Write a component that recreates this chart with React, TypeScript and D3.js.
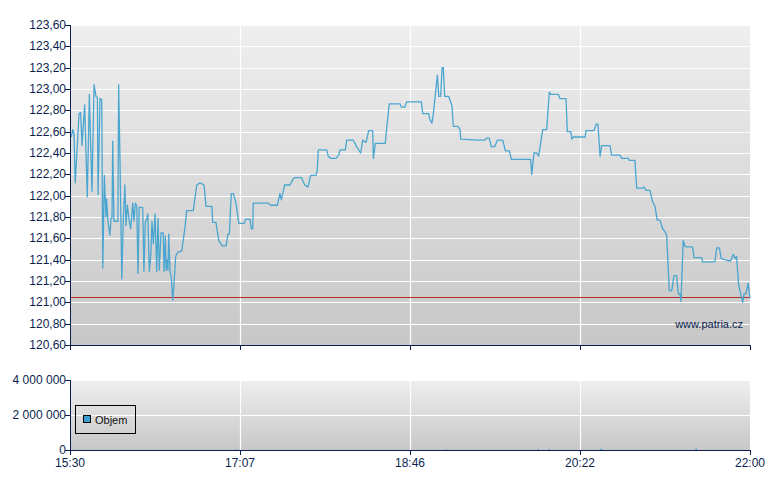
import React from 'react';
import * as d3 from 'd3';

// minutes after 15:30
const times = [
  0.75, 1.55, 2.3, 3.0, 5.2, 6.1, 6.9, 8.4, 9.9, 11.1, 12.6, 13.8, 14.9, 15.7, 16.1, 17.2, 18.2, 18.8,
  19.7, 20.6, 21.0, 21.8, 22.9, 23.5, 24.1, 24.5, 25.2, 27.5, 27.9, 28.7, 29.7, 30.6, 31.5, 32.1, 32.9,
  34.0, 34.8, 36.0, 36.7, 37.5, 38.3, 39.0, 39.7, 41.7, 42.4, 43.2, 44.0, 44.6, 45.5, 46.3, 47.0, 47.8,
  48.8, 49.7, 50.5, 51.2, 52.2, 53.5, 53.9, 54.7, 55.1, 55.8, 56.2, 56.6, 57.4, 58.1, 58.9, 59.6, 60.6,
  61.8, 64.1, 66.0, 66.9, 70.7, 72.7, 74.6, 76.9, 78.0, 81.4, 81.8, 83.7, 85.3, 87.2, 89.5, 90.6, 91.4,
  92.5, 93.7, 95.2, 96.8, 99.8, 100.9, 103.2, 104.0, 104.8, 105.1, 113.7, 115.1, 118.9, 120.4, 121.2,
  123.1, 126.2, 128.1, 129.2, 132.7, 134.6, 136.5, 138.0, 141.1, 141.8, 142.4, 147.2, 148.1, 149.5,
  152.6, 154.1, 154.9, 157.9, 158.7, 162.5, 164.4, 166.7, 167.9, 169.8, 171.3, 173.6, 174.0, 175.1,
  180.8, 181.6, 183.1, 189.3, 190.0, 192.0, 193.1, 201.5, 202.3, 205.7, 206.5, 207.6, 208.4, 210.7,
  211.5, 212.6, 213.4, 214.1, 214.9, 217.2, 219.1, 219.8, 222.5, 223.7, 224.1, 233.3, 234.4, 237.8,
  239.0, 240.5, 241.6, 243.6, 245.1, 248.2, 249.7, 252.0, 253.1, 264.2, 264.8, 266.1, 267.7, 268.8,
  271.1, 273.4, 274.9, 275.7, 280.1, 281.0, 284.5, 285.2, 287.2, 287.9, 288.7, 295.5, 295.9, 300.5,
  301.7, 302.8, 304.0, 304.9, 309.7, 310.6, 315.4, 316.4, 320.2, 320.8, 324.0, 325.0, 328.4, 329.2,
  330.4, 332.6, 334.2, 335.5, 336.8, 338.4, 339.9, 341.3, 342.2, 343.7, 345.1, 346.4, 347.9, 348.9,
  349.8, 350.4, 351.7, 352.9, 357.1, 357.9, 362.3, 362.8, 369.9, 370.9, 372.4, 373.5, 377.5, 378.9,
  380.4, 381.5, 382.3, 383.5, 385.8, 386.6, 387.7, 388.9, 390.0,
];

const prices = [
  122.55, 122.62, 122.58, 122.12, 122.77, 122.78, 122.47, 122.85, 121.99, 122.95, 122.04, 123.04, 122.93,
  122.92, 122.01, 122.91, 122.9, 121.32, 122.19, 121.8, 121.97, 121.75, 121.63, 121.79, 121.79, 122.51,
  121.76, 121.76, 123.04, 122.3, 121.22, 121.79, 122.1, 121.72, 121.91, 121.76, 121.69, 121.93, 121.76,
  121.93, 121.9, 121.27, 121.89, 121.89, 121.29, 121.75, 121.78, 121.83, 121.29, 121.43, 121.76, 121.55,
  121.83, 121.29, 121.79, 121.3, 121.65, 121.65, 121.29, 121.62, 121.3, 121.4, 121.3, 121.64, 121.29,
  121.23, 121.02, 121.16, 121.43, 121.47, 121.48, 121.71, 121.86, 121.86, 122.1, 122.12, 122.1, 121.9,
  121.9, 121.75, 121.75, 121.58, 121.53, 121.53, 121.64, 121.64, 122.02, 122.02, 121.93, 121.74, 121.74,
  121.78, 121.78, 121.69, 121.69, 121.93, 121.93, 121.91, 121.91, 122.02, 121.96, 122.1, 122.1, 122.16,
  122.17, 122.17, 122.1, 122.08, 122.19, 122.19, 122.24, 122.43, 122.43, 122.37, 122.35, 122.35, 122.38,
  122.43, 122.43, 122.52, 122.52, 122.46, 122.4, 122.52, 122.5, 122.61, 122.61, 122.35, 122.49, 122.49,
  122.63, 122.86, 122.86, 122.83, 122.83, 122.88, 122.88, 122.77, 122.77, 122.71, 122.68, 122.77, 123.13,
  122.93, 122.93, 123.2, 123.2, 122.93, 122.93, 122.84, 122.65, 122.65, 122.62, 122.53, 122.52, 122.52,
  122.52, 122.54, 122.54, 122.46, 122.46, 122.52, 122.52, 122.42, 122.42, 122.34, 122.34, 122.2, 122.4,
  122.4, 122.37, 122.62, 122.62, 122.97, 122.95, 122.95, 122.91, 122.91, 122.6, 122.6, 122.53, 122.55,
  122.55, 122.61, 122.61, 122.67, 122.67, 122.37, 122.47, 122.47, 122.38, 122.38, 122.35, 122.35, 122.33,
  122.33, 122.07, 122.07, 122.08, 122.05, 122.05, 121.94, 121.9, 121.77, 121.77, 121.69, 121.66, 121.63,
  121.11, 121.11, 121.25, 121.25, 121.08, 121.08, 121.01, 121.58, 121.52, 121.52, 121.42, 121.42, 121.38,
  121.38, 121.51, 121.51, 121.41, 121.39, 121.39, 121.45, 121.41, 121.43, 121.16, 121.0, 121.08, 121.08,
  121.18, 121.04,
];

const prevClose = 121.05;

const volTimes = [95.2, 215.6, 268.4, 274.7, 304.5, 359.0];
const volumes = [40000, 40000, 50000, 50000, 70000, 80000];

const xTickMinutes = [0, 97.5, 195, 292.5, 390];
const xTickLabels = ['15:30', '17:07', '18:46', '20:22', '22:00'];
const priceTicks = [120.6, 120.8, 121.0, 121.2, 121.4, 121.6, 121.8, 122.0, 122.2, 122.4, 122.6, 122.8, 123.0, 123.2, 123.4, 123.6];
const volTicks = [0, 2000000, 4000000];
const legendLabel = 'Objem';
const watermark = 'www.patria.cz';

const L = 70, R = 750, PT = 25, PB = 345, VT = 380, VB = 450;
const AXIS = '#0b1f4f';
const LINE = '#4aa6d0';
const FONT = '"Liberation Sans", Arial, sans-serif';

const px = (v: number) => Math.round(v) + 0.5;

export default function App() {
  const x = d3.scaleLinear().domain([0, 390]).range([L, R]);
  const y = d3.scaleLinear().domain([120.6, 123.6]).range([PB, PT]);
  const yv = d3.scaleLinear().domain([0, 4000000]).range([VB, VT]);
  const pts = times.map((t, i) => [t, prices[i]] as [number, number]);
  const line = d3.line<[number, number]>().x(d => x(d[0])).y(d => y(d[1]));
  const fmtP = (v: number) => v.toFixed(2).replace('.', ',');
  const fmtV = (v: number) => d3.format(',')(v).replace(/,/g, ' ');

  return (
    <div style={{ position: 'absolute', left: 0, top: 0 }}>
      <svg width={780} height={490} style={{ display: 'block', fontFamily: FONT }}>
        <defs>
          <linearGradient id="bgp" x1="0" y1="0" x2="0" y2="1">
            <stop offset="0" stopColor="#efefef" />
            <stop offset="1" stopColor="#c7c7c7" />
          </linearGradient>
          <linearGradient id="bgv" x1="0" y1="0" x2="0" y2="1">
            <stop offset="0" stopColor="#efefef" />
            <stop offset="1" stopColor="#c7c7c7" />
          </linearGradient>
        </defs>
        <rect x={0} y={0} width={780} height={490} fill="#fff" />
        {/* price panel */}
        <rect x={L} y={PT} width={R - L} height={PB - PT} fill="url(#bgp)" />
        {priceTicks.map(t => (
          <line key={'pg' + t} x1={L} x2={R} y1={px(y(t))} y2={px(y(t))} stroke="#fff" strokeWidth={1.2} />
        ))}
        {xTickMinutes.slice(1, -1).map(t => (
          <line key={'px' + t} x1={px(x(t))} x2={px(x(t))} y1={PT} y2={PB} stroke="#fff" strokeWidth={1.2} />
        ))}
        <line x1={L} x2={R} y1={px(y(prevClose))} y2={px(y(prevClose))} stroke="#b42828" strokeWidth={1} />
        <path d={line(pts) || ''} fill="none" stroke={LINE} strokeWidth={1.3} strokeLinejoin="round" />
        <text x={743} y={328} fontSize={11} fill={AXIS} textAnchor="end">{watermark}</text>
        <line x1={L + 0.5} x2={L + 0.5} y1={PT} y2={PB + 0.5} stroke={AXIS} strokeWidth={1} />
        <line x1={L} x2={R + 1} y1={PB + 0.5} y2={PB + 0.5} stroke={AXIS} strokeWidth={1} />
        {priceTicks.map(t => (
          <g key={'pt' + t}>
            <line x1={L - 5} x2={L} y1={px(y(t))} y2={px(y(t))} stroke={AXIS} />
            <text x={L - 4} y={y(t) + 4} fontSize={12} fill={AXIS} textAnchor="end">{fmtP(t)}</text>
          </g>
        ))}
        {xTickMinutes.map(t => (
          <line key={'ptx' + t} x1={px(x(t))} x2={px(x(t))} y1={PB} y2={PB + 5} stroke={AXIS} />
        ))}
        {/* volume panel */}
        <rect x={L} y={VT} width={R - L} height={VB - VT} fill="url(#bgv)" />
        {volTicks.map(t => (
          <line key={'vg' + t} x1={L} x2={R} y1={px(yv(t))} y2={px(yv(t))} stroke="#fff" strokeWidth={1.2} />
        ))}
        {xTickMinutes.slice(1, -1).map(t => (
          <line key={'vx' + t} x1={px(x(t))} x2={px(x(t))} y1={VT} y2={VB} stroke="#fff" strokeWidth={1.2} />
        ))}
        {volTimes.map((t, i) => (
          <rect key={'vb' + i} x={x(t) - 0.5} y={yv(volumes[i])} width={1.5} height={VB - yv(volumes[i])} fill="#3b9fd0" />
        ))}
        <line x1={L + 0.5} x2={L + 0.5} y1={VT} y2={VB + 0.5} stroke={AXIS} />
        <line x1={L} x2={R + 1} y1={VB + 0.5} y2={VB + 0.5} stroke={AXIS} />
        {volTicks.map(t => (
          <g key={'vt' + t}>
            <line x1={L - 5} x2={L} y1={px(yv(t))} y2={px(yv(t))} stroke={AXIS} />
            <text x={L - 4} y={yv(t) + 4} fontSize={12} fill={AXIS} textAnchor="end">{fmtV(t)}</text>
          </g>
        ))}
        {xTickMinutes.map((t, i) => (
          <g key={'vtx' + t}>
            <line x1={px(x(t))} x2={px(x(t))} y1={VB} y2={VB + 5} stroke={AXIS} />
            <text x={x(t)} y={467} fontSize={12} fill={AXIS} textAnchor="middle">{xTickLabels[i]}</text>
          </g>
        ))}
        {/* legend */}
        <rect x={75.5} y={405.5} width={60} height={28} fill="none" stroke="#000" strokeWidth={1} />
        <rect x={83.5} y={415.5} width={7} height={7} fill="#3b9fd0" stroke="#000" strokeWidth={1} />
        <text x={95} y={424} fontSize={11} fill="#111">{legendLabel}</text>
      </svg>
    </div>
  );
}
